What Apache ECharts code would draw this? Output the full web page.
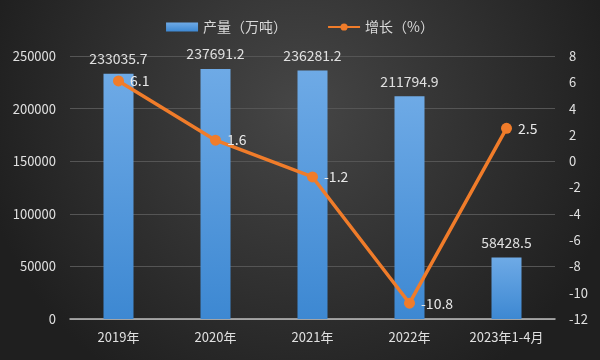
<!DOCTYPE html>
<html><head><meta charset="utf-8">
<script src="https://cdn.jsdelivr.net/npm/echarts@6/dist/echarts.min.js"></script>
<style>html,body{margin:0;padding:0;background:#2b2b2b}#c{width:600px;height:360px}</style>
</head><body><div id="c"></div>
<script>
const categories = ['2019年','2020年','2021年','2022年','2023年1-4月'];
const output = [233035.7, 237691.2, 236281.2, 211794.9, 58428.5];
const growth = [6.1, 1.6, -1.2, -10.8, 2.5];
const leftTicks = {min:0, max:250000, interval:50000};
const rightTicks = {min:-12, max:8, interval:2};

const chart = echarts.init(document.getElementById('c'));
const font = '"Microsoft YaHei","Noto Sans CJK SC",sans-serif';
chart.setOption({
  backgroundColor: new echarts.graphic.RadialGradient(0.5, 0.3, 0.9, [
    {offset:0, color:'#464646'}, {offset:1, color:'#1f1f1f'}]),
  textStyle:{fontFamily:font},
  legend:{
    top:15, left:'center', itemGap:40, itemWidth:32, itemHeight:9,
    textStyle:{color:'#d9d9d9', fontSize:14, fontFamily:font},
    data:[{name:'产量（万吨）', icon:'rect'},{name:'增长（%）'}]
  },
  grid:{left:70, right:45, top:56, bottom:41},
  xAxis:{
    type:'category', data:categories,
    axisLine:{lineStyle:{color:'#bfbfbf', width:1.5}},
    axisTick:{show:false},
    axisLabel:{color:'#e0e0e0', fontSize:13, margin:12}
  },
  yAxis:[{
    type:'value', min:leftTicks.min, max:leftTicks.max, interval:leftTicks.interval,
    axisLabel:{color:'#e0e0e0', fontSize:13, margin:14, formatter:v=>String(v)},
    axisLine:{show:false}, axisTick:{show:false},
    splitLine:{lineStyle:{color:'#555555', width:1}}
  },{
    type:'value', min:rightTicks.min, max:rightTicks.max, interval:rightTicks.interval,
    axisLabel:{color:'#e0e0e0', fontSize:13, margin:14, formatter:v=>String(v)},
    axisLine:{show:false}, axisTick:{show:false}, splitLine:{show:false}
  }],
  series:[{
    name:'产量（万吨）', type:'bar', data:output, barWidth:30,
    itemStyle:{color:new echarts.graphic.LinearGradient(0,0,0,1,[
      {offset:0,color:'#6eaae6'},{offset:1,color:'#3d88d2'}])},
    label:{show:true, position:'top', color:'#e0e0e0', fontSize:14, distance:8}
  },{
    name:'增长（%）', type:'line', yAxisIndex:1, data:growth,
    symbol:'circle', symbolSize:11,
    lineStyle:{color:'#f07c2a', width:3.5},
    itemStyle:{color:'#f07c2a'},
    label:{show:true, position:'right', color:'#e8e8e8', fontSize:14, distance:6}
  }]
});
</script></body></html>
